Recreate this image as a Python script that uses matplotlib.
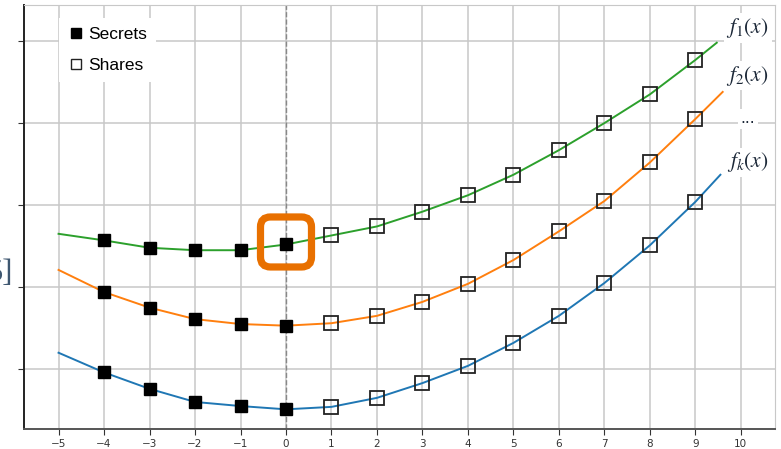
import matplotlib
matplotlib.use("Agg")
import matplotlib.pyplot as plt
from matplotlib.lines import Line2D
from matplotlib.patches import FancyBboxPatch
from matplotlib.transforms import ScaledTranslation

# curve values at x = -5 .. 9, plus where each line stops
x_int = list(range(-5, 10))
f1 = [16.5, 15.7, 14.8, 14.5, 14.5, 15.2, 16.3, 17.4, 19.2, 21.2, 23.7, 26.7, 30.0, 33.5, 37.7]
f2 = [12.1, 9.4, 7.5, 6.1, 5.5, 5.3, 5.6, 6.5, 8.2, 10.4, 13.3, 16.8, 20.5, 25.2, 30.5]
fk = [2.0, -0.4, -2.4, -4.0, -4.5, -4.9, -4.6, -3.5, -1.7, 0.4, 3.2, 6.5, 10.5, 15.1, 20.4]
f1_end = (9.47, 39.8)
f2_end = (9.60, 33.8)
fk_end = (9.55, 23.7)

secret_x = [-4, -3, -2, -1, 0]
share_x = [1, 2, 3, 4, 5, 6, 7, 8, 9]

curve_labels = [r"$f_1(x)$", r"$f_2(x)$", "...", r"$f_k(x)$"]
label_y = [41.6, 35.8, 30.5, 25.2]

plt.rcParams["mathtext.fontset"] = "stix"

fig = plt.figure(figsize=(7.81, 4.49), dpi=100)
ax = fig.add_axes([0.0307, 0.0445, 0.9616, 0.9444])

curves = [(f1, f1_end, "#2ca02c"), (f2, f2_end, "#ff7f0e"), (fk, fk_end, "#1f77b4")]
for ys, end, col in curves:
    ax.plot(x_int + [end[0]], ys + [end[1]], color=col, lw=1.4, zorder=2)
    sec = [ys[x_int.index(v)] for v in secret_x]
    sha = [ys[x_int.index(v)] for v in share_x]
    ax.plot(secret_x, sec, "s", color="black", ms=9, zorder=4)
    ax.plot(share_x, sha, "s", mfc="none", mec="#222222", mew=1.3, ms=9.5, zorder=4)

ax.axvline(0, color="#888888", ls="--", lw=1, zorder=1)

# orange highlight round the secret at x = 0
y0 = f1[x_int.index(0)]
trans = fig.dpi_scale_trans + ScaledTranslation(0, y0, ax.transData)
box = FancyBboxPatch((-0.255, -0.225), 0.51, 0.5,
                     boxstyle="round,pad=0,rounding_size=0.1",
                     transform=trans, fill=False, ec="#E87000", lw=5.2,
                     zorder=5, clip_on=False)
ax.add_patch(box)

for lab, yy in zip(curve_labels, label_y):
    ax.text(10.15, yy, lab, fontsize=15.5 if lab != "..." else 11, color="#1c2838",
            ha="center", va="center", zorder=6,
            bbox=dict(fc="white", ec="none", pad=2))

ax.set_xlim(-5.76, 10.75)
ax.set_ylim(-7.3, 44.4)
ax.set_xticks(range(-5, 11))
ax.set_yticks([0, 10, 20, 30, 40])
ax.set_yticklabels([])
ax.tick_params(axis="x", labelsize=7.5, colors="#333333", length=4)
ax.tick_params(axis="y", length=4, colors="#333333")
ax.grid(True, color="#c8c8c8", lw=1.1, zorder=0)
ax.set_axisbelow(True)

ax.spines["left"].set_color("#222222")
ax.spines["left"].set_linewidth(1.4)
ax.spines["bottom"].set_color("#555555")
ax.spines["bottom"].set_linewidth(1.4)
ax.spines["top"].set_color("#c8c8c8")
ax.spines["right"].set_color("#c8c8c8")

handles = [Line2D([], [], ls="none", marker="s", color="black", ms=7, label="Secrets"),
           Line2D([], [], ls="none", marker="s", mfc="none", mec="#222222", mew=1, ms=7, label="Shares")]
leg = ax.legend(handles=handles, loc="upper left", bbox_to_anchor=(0.035, 0.99),
                frameon=True, fancybox=False, framealpha=1, edgecolor="none",
                prop={"family": "Liberation Sans", "size": 12.5},
                handletextpad=0.2, handlelength=1.0, labelspacing=0.95, borderpad=0.5)
leg.set_zorder(7)

fig.text(0.0166, 0.39, "5]", ha="right", va="center", fontsize=22,
         family="Liberation Serif", color="#3e5770")

fig.savefig("out.png", dpi=100)
